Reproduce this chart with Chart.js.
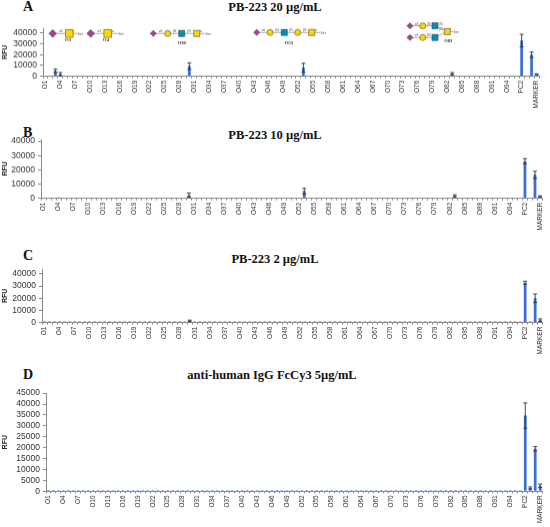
<!DOCTYPE html>
<html>
<head>
<meta charset="utf-8">
<script src="https://cdn.jsdelivr.net/npm/chart.js@4.4.1/dist/chart.umd.min.js"></script>
<style>
  html, body { margin: 0; padding: 0; background: #fff; }
  body { width: 550px; height: 527px; position: relative; overflow: hidden; }
  .panel { position: absolute; left: 0; width: 550px; }
  .letter, .title {
    position: absolute; font-family: "Liberation Serif", "Times New Roman", serif;
    font-weight: bold; line-height: 1; white-space: nowrap; color: #111;
  }
  .letter { left: 23px; font-size: 14px; }
  .title { font-size: 12.5px; transform: translateX(-50%); }
</style>
</head>
<body>

<div class="letter" style="top:0px">A</div>
<div class="title" style="left:275px;top:1px">PB-223 20 µg/mL</div>
<div class="panel" id="boxA"><canvas id="chartA"></canvas></div>

<div class="letter" style="top:126px">B</div>
<div class="title" style="left:275px;top:129px">PB-223 10 µg/mL</div>
<div class="panel" id="boxB"><canvas id="chartB"></canvas></div>

<div class="letter" style="top:249px">C</div>
<div class="title" style="left:275px;top:253px">PB-223 2 µg/mL</div>
<div class="panel" id="boxC"><canvas id="chartC"></canvas></div>

<div class="letter" style="top:368px">D</div>
<div class="title" style="left:272px;top:369px">anti-human IgG FcCy3 5µg/mL</div>
<div class="panel" id="boxD"><canvas id="chartD"></canvas></div>

<script>
// categories on the array: 95 glycans + controls
const glycanIds = Array.from({ length: 95 }, (_, i) => 'O' + (i + 1));
const controlIds = ['PC1', 'PC2', 'NC', 'PC3', 'MARKER'];
const categories = glycanIds.concat(controlIds);

// y tick labels
const ticks10k = [0, 10000, 20000, 30000, 40000];
const ticks5k = [0, 5000, 10000, 15000, 20000, 25000, 30000, 35000, 40000, 45000];

// A: PB-223 20 ug/mL
const hitsA = ['O3', 'O4', 'O30', 'O52', 'O53', 'O64', 'O83', 'O95', 'PC2', 'PC3', 'MARKER'];
const rfuA  = [5000, 2000, 9500, 300, 8000, 300, 2500, 300, 33000, 20000, 2000];
const errA  = [1600, 1500, 3000, 0, 4000, 0, 1000, 0, 5800, 2500, 300];

// B: PB-223 10 ug/mL
const hitsB = ['O4', 'O30', 'O53', 'O56', 'O64', 'O83', 'O95', 'PC2', 'NC', 'PC3', 'MARKER'];
const rfuB  = [700, 2300, 5000, 500, 300, 1800, 400, 26000, 500, 16500, 1400];
const errB  = [0, 1400, 2000, 0, 0, 700, 0, 1800, 0, 2500, 400];

// C: PB-223 2 ug/mL
const hitsC = ['O3', 'O30', 'O53', 'PC2', 'NC', 'PC3', 'MARKER'];
const rfuC  = [500, 1500, 400, 32800, 300, 20000, 2000];
const errC  = [0, 500, 0, 1200, 0, 3500, 1000];

// D: anti-human IgG FcCy3 5 ug/mL
const hitsD = ['PC2', 'NC', 'PC3', 'MARKER'];
const rfuD  = [34700, 1500, 19500, 2500];
const errD  = [5800, 500, 1000, 800];

const BAR_BLUE = '#3b6fd4';
const AXIS_GREY = '#8c8c8c';
const PAD_TOP = 6;
const X_AXIS_H = 34;

function fullSeries(hits, vals) {
  return categories.map(c => {
    const k = hits.indexOf(c);
    return k < 0 ? 0 : vals[k];
  });
}

// error bars drawn from dataset.errors
const errorBars = {
  id: 'errorBars',
  afterDatasetsDraw(chart) {
    const ds = chart.data.datasets[0];
    const meta = chart.getDatasetMeta(0);
    const y = chart.scales.y;
    const ctx = chart.ctx;
    ctx.save();
    ctx.strokeStyle = '#333';
    ctx.lineWidth = 0.9;
    ds.errors.forEach((e, i) => {
      if (!e) return;
      const x = meta.data[i].x;
      const top = y.getPixelForValue(ds.data[i] + e);
      const bot = y.getPixelForValue(Math.max(ds.data[i] - e, 0));
      ctx.beginPath();
      ctx.moveTo(x, top); ctx.lineTo(x, bot);
      ctx.moveTo(x - 2, top); ctx.lineTo(x + 2, top);
      ctx.moveTo(x - 2, bot); ctx.lineTo(x + 2, bot);
      ctx.stroke();
    });
    ctx.restore();
  }
};

// glycan cartoons above panel A (page coordinates)
const glycanArt = [
  { label: 'O3', lx: 68, ly: 40.5, s: 1.2, ser: [82, 33.3],
    nodes: [['neu', 52.7, 33.3], ['galnac', 69.3, 33.3]],
    links: [[0, 1, 'α6'], [1, 'ser', 'α']] },
  { label: 'O4', lx: 106, ly: 40.5, s: 1.2, ser: [123, 33.3],
    nodes: [['neu', 90.7, 33.3], ['galnac', 107.7, 33.3]],
    links: [[0, 1, 'α3'], [1, 'ser', 'α']] },
  { label: 'O30', lx: 181.7, ly: 43.5, s: 0.95, ser: [210, 33.3],
    nodes: [['neu', 153.3, 33.3], ['gal', 167.7, 33.3], ['glcnac', 181.7, 33.3], ['galnac', 196.7, 33.3]],
    links: [[0, 1, 'α3'], [1, 2, 'β4'], [2, 3, 'β3'], [3, 'ser', 'α']] },
  { label: 'O53', lx: 289, ly: 43.5, s: 0.95, ser: [325, 32.3],
    nodes: [['neu', 256.7, 32.3], ['gal', 270, 32.3], ['glcnac', 284.3, 32.3], ['gal', 297.7, 32.3], ['galnac', 311.7, 32.3]],
    links: [[0, 1, 'α6'], [1, 2, 'β4'], [2, 3, 'β3'], [3, 4, 'β3'], [4, 'ser', 'α']] },
  { label: 'O83', lx: 448.3, ly: 41.5, s: 0.95, ser: [458, 31.5],
    nodes: [['neu', 410, 25.7], ['gal', 422.7, 25.7], ['glcnac', 435, 25.7],
            ['neu', 410, 37.3], ['gal', 422.7, 37.3], ['glcnac', 435, 37.3], ['galnac', 447.3, 31.5]],
    links: [[0, 1, 'α3'], [1, 2, 'β3'], [2, 6, 'β6'], [3, 4, 'α3'], [4, 5, 'β4'], [5, 6, 'β3'], [6, 'ser', 'α']] }
];

const glycanColors = { neu: '#a54399', gal: '#ffd400', galnac: '#ffd400', glcnac: '#0090bc' };

function glycanPlugin(offsetTop) {
  return {
    id: 'glycans',
    afterDraw(chart) {
      const ctx = chart.ctx;
      ctx.save();
      ctx.translate(0, -offsetTop);
      glycanArt.forEach(g => {
        const pos = k => (k === 'ser' ? g.ser : [g.nodes[k][1], g.nodes[k][2]]);
        ctx.strokeStyle = '#777';
        ctx.lineWidth = 0.6;
        ctx.fillStyle = '#555';
        ctx.font = '3px "Liberation Sans", sans-serif';
        ctx.textAlign = 'center';
        g.links.forEach(([a, b, t]) => {
          const p = pos(a), q = pos(b);
          const end = b === 'ser' ? [q[0] - 5, q[1]] : q;
          ctx.beginPath(); ctx.moveTo(p[0], p[1]); ctx.lineTo(end[0], end[1]); ctx.stroke();
          ctx.fillText(t, (p[0] + end[0]) / 2, Math.min(p[1], end[1]) - 1.2);
        });
        ctx.textAlign = 'left';
        ctx.font = '3.5px "Liberation Sans", sans-serif';
        ctx.fillText('Ser', g.ser[0] - 4.5, g.ser[1] + 1.2);
        g.nodes.forEach(([type, x, y]) => {
          const r = 3.2 * g.s;
          ctx.fillStyle = glycanColors[type];
          ctx.strokeStyle = '#333';
          ctx.lineWidth = 0.5;
          ctx.beginPath();
          if (type === 'neu') {
            ctx.moveTo(x, y - r); ctx.lineTo(x + r, y); ctx.lineTo(x, y + r); ctx.lineTo(x - r, y); ctx.closePath();
          } else if (type === 'gal') {
            ctx.arc(x, y, r, 0, Math.PI * 2);
          } else {
            ctx.rect(x - r, y - r, r * 2, r * 2);
          }
          ctx.fill(); ctx.stroke();
        });
        ctx.fillStyle = '#222';
        ctx.textAlign = 'center';
        ctx.font = 'bold 4.5px "Liberation Serif", serif';
        ctx.fillText(g.label, g.lx, g.ly);
      });
      ctx.restore();
    }
  };
}

function makePanel(id, geom, hits, vals, errs, yMax, yTicks, baseline, extra) {
  const canvas = document.getElementById('chart' + id);
  const box = document.getElementById('box' + id);
  const canvasTop = geom.plotTop - PAD_TOP;
  box.style.top = canvasTop + 'px';
  box.style.height = (geom.plotBottom - geom.plotTop + PAD_TOP + X_AXIS_H) + 'px';

  return new Chart(canvas, {
    type: 'bar',
    data: {
      labels: categories,
      datasets: [{
        data: fullSeries(hits, vals),
        errors: fullSeries(hits, errs),
        backgroundColor: BAR_BLUE,
        borderWidth: 0,
        barPercentage: 0.55,
        categoryPercentage: 1,
        minBarLength: baseline ? 1 : 0
      }]
    },
    options: {
      responsive: true,
      maintainAspectRatio: false,
      animation: false,
      events: [],
      layout: { padding: { top: PAD_TOP, left: 0, right: 550 - geom.right, bottom: 0 } },
      plugins: {
        legend: { display: false },
        tooltip: { enabled: false }
      },
      scales: {
        x: {
          grid: { drawOnChartArea: false, tickLength: 2, color: AXIS_GREY },
          border: { color: AXIS_GREY },
          ticks: {
            autoSkip: false, maxRotation: 90, minRotation: 90, padding: 2,
            color: '#333', font: { family: '"Liberation Sans", Arial, sans-serif', size: 6.5 },
            callback: (v, i) => (i % 3 === 0 ? categories[i] : '')
          },
          afterFit: s => { s.height = X_AXIS_H; }
        },
        y: {
          min: 0,
          max: yMax,
          afterBuildTicks: s => { s.ticks = yTicks.map(v => ({ value: v })); },
          grid: { drawOnChartArea: false, tickLength: 3, color: AXIS_GREY },
          border: { color: AXIS_GREY },
          ticks: {
            autoSkip: false, padding: 3, color: '#333',
            font: { family: '"Liberation Sans", Arial, sans-serif', size: 8.5 },
            callback: v => String(v)
          },
          title: {
            display: true, text: 'RFU', color: '#222',
            font: { family: '"Liberation Sans", Arial, sans-serif', size: 7, weight: 'bold' },
            padding: { top: 1, bottom: 0 }
          },
          afterFit: s => { s.width = geom.left; }
        }
      }
    },
    plugins: [errorBars].concat(extra ? [extra(canvasTop)] : [])
  });
}

makePanel('A', { plotTop: 26, plotBottom: 75.7, left: 43, right: 539 },
  hitsA, rfuA, errA, 44400, ticks10k, false, glycanPlugin);
makePanel('B', { plotTop: 137, plotBottom: 197.7, left: 41, right: 542.5 },
  hitsB, rfuB, errB, 41400, ticks10k, false);
makePanel('C', { plotTop: 266.7, plotBottom: 322.3, left: 42, right: 544 },
  hitsC, rfuC, errC, 44000, ticks10k, true);
makePanel('D', { plotTop: 391, plotBottom: 491.3, left: 46, right: 546 },
  hitsD, rfuD, errD, 45000, ticks5k, true);
</script>
</body>
</html>
